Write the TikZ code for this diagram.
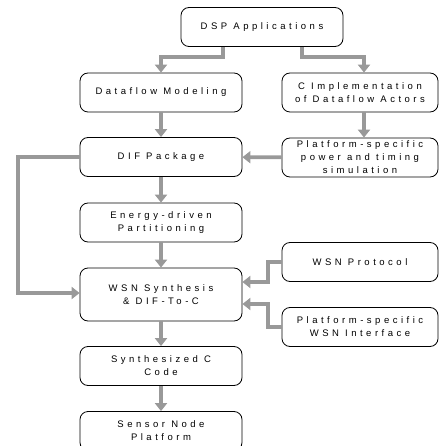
\documentclass[tikz,border=0pt]{standalone}
\usepackage{fontspec}
\usepackage{tikz}
\usetikzlibrary{arrows.meta}
\newfontfamily\spaced[LetterSpace=37]{Liberation Sans}

\begin{document}
\begin{tikzpicture}[x=1pt,y=-1pt,
    step box/.style={draw, line width=0.8pt, rounded corners=8pt, minimum width=162pt, minimum height=39pt, inner sep=0pt, align=center, font=\spaced\fontsize{9.5}{13}\selectfont},
    side box/.style={step box, minimum width=156pt},
    flow/.style={draw=black!40, line width=3.6pt, -{Triangle[length=8pt,width=12pt]}}]
    \useasboundingbox (0,0) rectangle (438,446);
    \node[step box] (dsp) at (262,27) {DSP Applications};
    \node[step box] (model) at (161,92.5) {Dataflow Modeling};
    \node[side box] (cimpl) at (360,92.5) {C Implementation\\of Dataflow Actors};
    \node[step box] (dif) at (161,157) {DIF Package};
    \node[side box] (power) at (360,157.5) {Platform-specific\\power and timing\\simulation};
    \node[step box] (energy) at (161,222.5) {Energy-driven\\Partitioning};
    \node[side box] (wsnp) at (360,262) {WSN Protocol};
    \node[step box, minimum height=53pt] (synth) at (161,294.5) {WSN Synthesis\\\& DIF-To-C};
    \node[side box] (iface) at (360,327) {Platform-specific\\WSN Interface};
    \node[step box] (code) at (161,366) {Synthesized C\\Code};
    \node[step box] (sensor) at (161,431) {Sensor Node\\Platform};
    \draw[flow] (dsp.south -| 223,0) |- (161,57) -- (model.north);
    \draw[flow] (dsp.south -| 302,0) |- (364,57) -- (cimpl.north -| 364,0);
    \draw[flow] (model) -- (dif);
    \draw[flow] (cimpl.south -| 364,0) -- (power.north -| 364,0);
    \draw[flow] (power) -- (dif);
    \draw[flow] (dif) -- (energy);
    \draw[flow] (energy) -- (synth);
    \draw[flow] (synth) -- (code);
    \draw[flow] (code) -- (sensor);
    \draw[flow] (dif.west) -| (18,293) -- (synth.west |- 0,293);
    \draw[flow] (wsnp.west) -| (268,282) -- (synth.east |- 0,282);
    \draw[flow] (iface.west) -| (268,304) -- (synth.east |- 0,304);
\end{tikzpicture}
\end{document}
